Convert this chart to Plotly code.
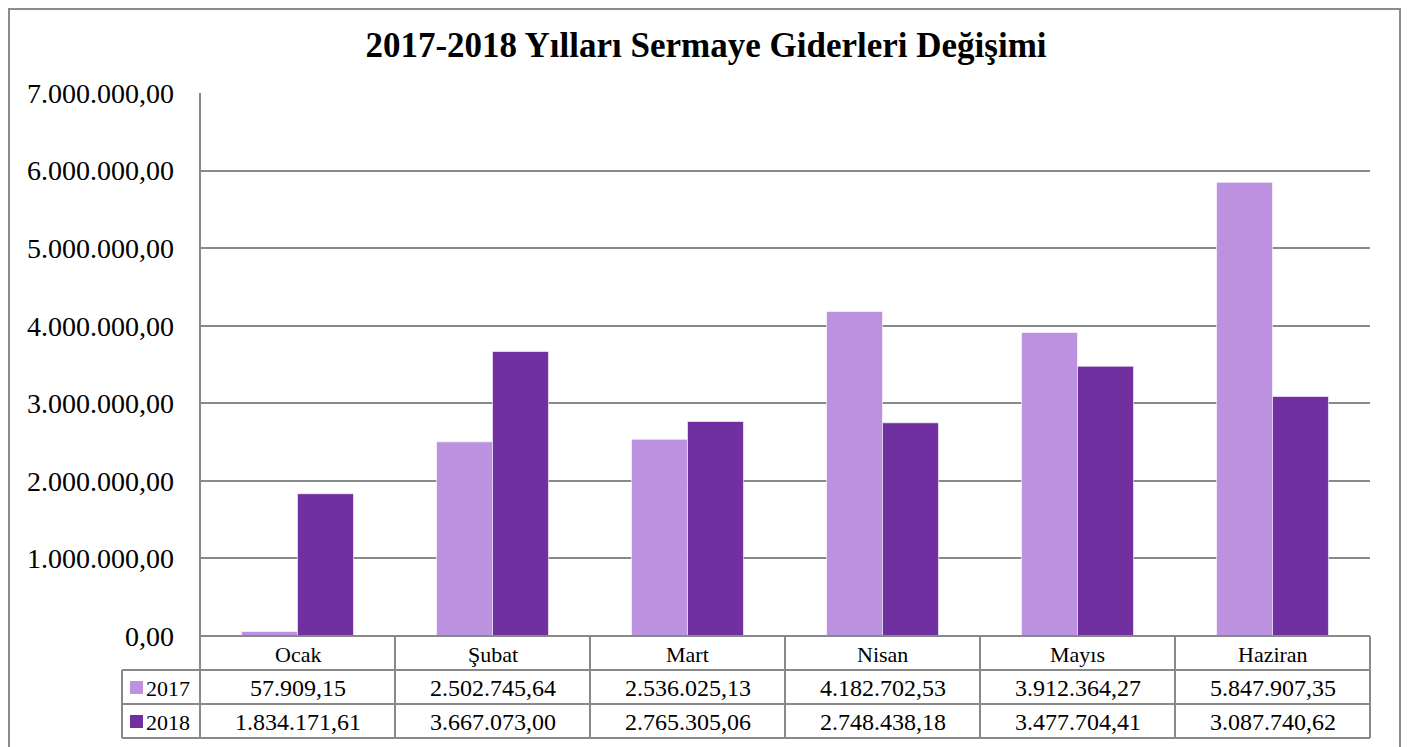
import plotly.graph_objects as go

months = ["Ocak", "Şubat", "Mart", "Nisan", "Mayıs", "Haziran"]
series_names = ["2017", "2018"]
values_2017 = [57909.15, 2502745.64, 2536025.13, 4182702.53, 3912364.27, 5847907.35]
values_2018 = [1834171.61, 3667073.00, 2765305.06, 2748438.18, 3477704.41, 3087740.62]
colors = ["#BC91E0", "#7030A0"]
title_text = "2017-2018 Yılları Sermaye Giderleri Değişimi"

W, H = 1416, 747
OFF = 8  # browser body margin
# target plot area in screen pixels
SL, SR, ST, SB = 200, 1370, 93, 636
GRID = "#898989"
FONT = "Liberation Serif"


def xp(sx):
    return (sx - SL) / (SR - SL)


def yp(sy):
    return (SB - sy) / (SB - ST)


def tr(v):
    s = f"{v:,.2f}"
    return s.replace(",", "X").replace(".", ",").replace("X", ".")


fig = go.Figure()
for name, vals, col in zip(series_names, [values_2017, values_2018], colors):
    fig.add_trace(go.Bar(x=months, y=vals, name=name, marker_color=col,
                         marker_line=dict(color="rgba(255,255,255,0.6)", width=1),
                         hoverinfo="skip"))

shapes = []
annotations = []
ROW = 34
COLW = (SR - SL) / len(months)
rows_y = [SB + ROW * i for i in range(4)]
LEG_X = 122
line = dict(color=GRID, width=2)

# outer chart border
shapes.append(dict(type="rect", xref="paper", yref="paper",
                   x0=xp(9), x1=xp(1400), y0=yp(800), y1=yp(9),
                   line=dict(color="#8C8C8C", width=2), layer="below"))
# left axis line
shapes.append(dict(type="line", xref="paper", yref="paper", x0=0, x1=0, y0=0, y1=1, line=line))
# table top (axis line)
shapes.append(dict(type="line", xref="paper", yref="paper", x0=0, x1=1, y0=0, y1=0, line=line))
# horizontal table lines
for sy in rows_y[1:]:
    shapes.append(dict(type="line", xref="paper", yref="paper", x0=xp(LEG_X), x1=1,
                       y0=yp(sy), y1=yp(sy), line=line))
# vertical table lines
for i in range(len(months) + 1):
    sx = SL + COLW * i
    shapes.append(dict(type="line", xref="paper", yref="paper", x0=xp(sx), x1=xp(sx),
                       y0=yp(rows_y[3]), y1=yp(rows_y[0]), line=line))
shapes.append(dict(type="line", xref="paper", yref="paper", x0=xp(LEG_X), x1=xp(LEG_X),
                   y0=yp(rows_y[3]), y1=yp(rows_y[1]), line=line))

lfont = dict(family=FONT, size=22, color="#000")
nfont = dict(family=FONT, size=24, color="#000")
# category labels
for m in months:
    annotations.append(dict(x=m, xref="x", y=yp(SB + ROW / 2 + 1), yref="paper",
                            yanchor="middle", xanchor="center",
                            text=m, showarrow=False, font=lfont))
# data rows
for r, (name, vals, col) in enumerate(zip(series_names, [values_2017, values_2018], colors)):
    yc = SB + ROW * (r + 1) + ROW / 2 + 1
    for m, v in zip(months, vals):
        annotations.append(dict(x=m, xref="x", y=yp(yc), yref="paper", text=tr(v),
                                yanchor="middle", xanchor="center",
                                showarrow=False, font=nfont))
    shapes.append(dict(type="rect", xref="paper", yref="paper", x0=xp(130), x1=xp(143),
                       y0=yp(yc + 6), y1=yp(yc - 7), fillcolor=col, line=dict(width=0)))
    annotations.append(dict(x=xp(144), xref="paper", y=yp(yc), yref="paper", text=name,
                            xanchor="left", yanchor="middle", showarrow=False, font=lfont))

fig.update_layout(
    width=W, height=H,
    margin=dict(l=SL - OFF, r=W - (SR - OFF), t=ST - OFF, b=H - (SB - OFF), autoexpand=False),
    paper_bgcolor="white", plot_bgcolor="white",
    separators=",.",
    showlegend=False,
    barmode="group", bargap=0.426, bargroupgap=0,
    title=dict(text="<b>" + title_text + "</b>", x=(706 - OFF) / W, xanchor="center",
               y=1 - (45 - OFF) / H, yanchor="middle",
               font=dict(family=FONT, size=35, color="#000")),
    xaxis=dict(showticklabels=False, showgrid=False, showline=False, ticks="",
               range=[-0.5, len(months) - 0.5], zeroline=False),
    yaxis=dict(range=[0, 7000000], dtick=1000000, tickformat=",.2f",
               showgrid=True, gridcolor=GRID, gridwidth=2, zeroline=False,
               showline=False, ticks="", ticklabelstandoff=25,
               tickfont=dict(family=FONT, size=28, color="#000")),
    shapes=shapes, annotations=annotations,
)
fig.write_html("out.html")
